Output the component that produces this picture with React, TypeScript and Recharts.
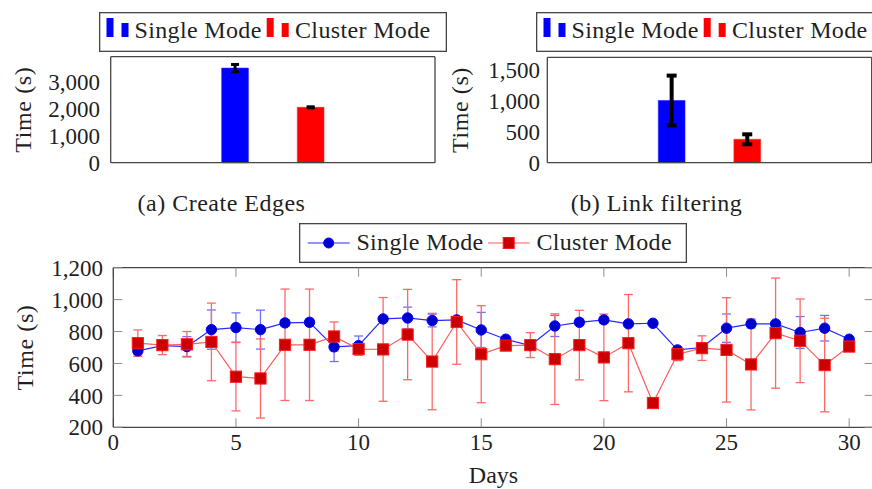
import React from 'react';
import { BarChart, Bar, XAxis, YAxis, ErrorBar, LineChart, Line, Legend } from 'recharts';

const FONT = "'Liberation Serif', 'DejaVu Serif', serif";
const TEXT = '#1f1f1f';
const FRAME = '#454545';
const TICK = '#8c8c8c';

// ---------- shared ----------
const seriesNames = ['Single Mode', 'Cluster Mode'];

// ---------- (a) Create Edges ----------
const createEdgesTime = [3507, 2052];
const createEdgesErr = [135, 20];
const createEdgesTicks = [0, 1000, 2000, 3000];
const createEdgesMax = 3930;

// ---------- (b) Link filtering ----------
const linkFilterTime = [1000, 376];
const linkFilterErr = [400, 80];
const linkFilterTicks = [0, 500, 1000, 1500];
const linkFilterMax = 1694;

// ---------- (c) daily times ----------
const days = [1, 2, 3, 4, 5, 6, 7, 8, 9, 10, 11, 12, 13, 14, 15, 16, 17, 18, 19, 20, 21, 22, 23, 24, 25, 26, 27, 28, 29, 30];
const singleTime = [679, 712, 706, 812, 825, 812, 854, 858, 704, 712, 879, 885, 869, 873, 810, 752, 712, 835, 858, 873, 848, 852, 685, 700, 821, 848, 848, 794, 821, 752];
const singleErr = [25, 20, 62, 123, 92, 122, 20, 20, 92, 60, 15, 68, 40, 15, 110, 15, 15, 66, 20, 20, 15, 10, 20, 15, 89, 25, 15, 100, 80, 10];
const clusterTime = [727, 715, 720, 735, 517, 506, 717, 717, 769, 690, 688, 781, 612, 860, 658, 712, 715, 627, 715, 638, 727, 352, 658, 696, 685, 594, 790, 742, 590, 706];
const clusterErr = [83, 60, 80, 243, 214, 248, 349, 349, 91, 15, 325, 283, 302, 265, 304, 20, 78, 284, 218, 271, 305, 10, 40, 77, 327, 285, 345, 262, 293, 10];
const dayTicks = [0, 5, 10, 15, 20, 25, 30];
const timeTicks = [200, 400, 600, 800, 1000, 1200];

const fmt = (v: number) => Number(v).toLocaleString('en-US');
const blank = () => '';
const FS = 24; // titles, legends, captions
const TS = 23; // tick labels

function BarLegendBox({ names }: { names: string[] }) {
  const items = [
    { color: '#0000ff', iconX: 7.5, textX: 35.5 },
    { color: '#ff0000', iconX: 167.7, textX: 196 },
  ];
  return (
    <svg width={348} height={40} style={{ display: 'block', overflow: 'visible' }}>
      <rect x={0.65} y={0.65} width={346.7} height={38.7} fill="#fff" stroke={FRAME} strokeWidth={1.3} />
      {items.map((it, i) => (
        <g key={i}>
          <rect x={it.iconX} y={6} width={7} height={19} fill={it.color} />
          <rect x={it.iconX + 15} y={11} width={7} height={14} fill={it.color} />
          <text x={it.textX} y={25.5} fontSize={FS} letterSpacing={0.35} fontFamily={FONT} fill={TEXT}>{names[i]}</text>
        </g>
      ))}
    </svg>
  );
}

function LineLegendBox({ names }: { names: string[] }) {
  return (
    <svg width={388} height={40} style={{ display: 'block', overflow: 'visible' }}>
      <rect x={0.65} y={0.65} width={386.7} height={38.7} fill="#fff" stroke={FRAME} strokeWidth={1.3} />
      <line x1={8.7} y1={20} x2={50.7} y2={20} stroke="#2a2aff" strokeWidth={1.2} />
      <circle cx={29.7} cy={20} r={5} fill="#0000cc" stroke="#0000ff" strokeWidth={1} />
      <text x={57.4} y={26.5} fontSize={FS} letterSpacing={0.35} fontFamily={FONT} fill={TEXT}>{names[0]}</text>
      <line x1={189} y1={20} x2={230.7} y2={20} stroke="#ff5c5c" strokeWidth={1.2} />
      <rect x={209.7 - 5.5} y={20 - 5.5} width={11} height={11} fill="#cc0000" stroke="#ff1a1a" strokeWidth={1} />
      <text x={237.4} y={26.5} fontSize={FS} letterSpacing={0.35} fontFamily={FONT} fill={TEXT}>{names[1]}</text>
    </svg>
  );
}

type BarPanelProps = {
  left: number;
  width: number;
  values: number[];
  errors: number[];
  max: number;
  ticks: number[];
  yAxisWidth: number;
  marginTop: number;
  marginRight: number;
  tickGap: number;
  caption: string;
  captionX: number;
  labelX: number;
  legendLeft: number;
  errStroke: number;
  errHalf: number;
};

function BarPanel(p: BarPanelProps) {
  const height = 220;
  const plotBottom = 162.7;
  const data = [
    {
      name: p.caption,
      single: p.values[0],
      singleErr: p.errors[0],
      cluster: p.values[1],
      clusterErr: p.errors[1],
    },
  ];
  const axisLine = { stroke: FRAME, strokeWidth: 1.3 };
  const yMid = (p.marginTop + plotBottom) / 2;
  return (
    <div style={{ position: 'absolute', left: p.left, top: 0 }}>
      <BarChart
        width={p.width}
        height={height}
        data={data}
        margin={{ top: p.marginTop - 1, right: p.marginRight - 1, bottom: height - plotBottom - 1, left: 0 }}
        barSize={26.7}
        barGap={48.9}
      >
        <XAxis
          dataKey="name"
          height={1}
          tickFormatter={blank}
          tickLine={false}
          tickSize={0}
          axisLine={axisLine}
          label={() => (
            <text x={p.captionX} y={210.5} textAnchor="middle" fontSize={FS} letterSpacing={0.5} fontFamily={FONT} fill={TEXT}>
              {p.caption}
            </text>
          )}
        />
        <XAxis
          xAxisId="top"
          orientation="top"
          dataKey="name"
          height={1}
          tickFormatter={blank}
          tickLine={false}
          tickSize={0}
          axisLine={axisLine}
        />
        <YAxis
          type="number"
          domain={[0, p.max]}
          ticks={p.ticks}
          interval={0}
          width={p.yAxisWidth}
          tickLine={false}
          tickSize={0}
          tickMargin={p.tickGap}
          axisLine={axisLine}
          tick={{ fontSize: TS, fill: TEXT, fontFamily: FONT }}
          tickFormatter={fmt}
          label={() => (
            <text
              x={p.labelX}
              y={yMid}
              transform={`rotate(-90 ${p.labelX} ${yMid})`}
              textAnchor="middle"
              dominantBaseline="central"
              fontSize={FS}
              letterSpacing={0.6}
              fontFamily={FONT}
              fill={TEXT}
            >
              Time (s)
            </text>
          )}
        />
        <YAxis
          yAxisId="right"
          orientation="right"
          type="number"
          domain={[0, p.max]}
          ticks={p.ticks}
          interval={0}
          width={1}
          tickSize={-9}
          tickLine={{ stroke: TICK, strokeWidth: 1 }}
          axisLine={axisLine}
          tickFormatter={blank}
        />
        <Bar dataKey="single" name={seriesNames[0]} fill="#0000ff" stroke="#2020ff" strokeWidth={0.6} isAnimationActive={false}>
          <ErrorBar dataKey="singleErr" direction="y" width={p.errHalf} stroke="#000" strokeWidth={p.errStroke} />
        </Bar>
        <Bar dataKey="cluster" name={seriesNames[1]} fill="#ff0000" stroke="#ff2020" strokeWidth={0.6} isAnimationActive={false}>
          <ErrorBar dataKey="clusterErr" direction="y" width={p.errHalf} stroke="#000" strokeWidth={p.errStroke} />
        </Bar>
        <Legend
          layout="vertical"
          align="center"
          verticalAlign="middle"
          wrapperStyle={{ position: 'absolute', left: p.legendLeft, top: 12, width: 348, height: 40 }}
          content={() => <BarLegendBox names={seriesNames} />}
        />
      </BarChart>
    </div>
  );
}

const circleDot = (props: any) => (
  <circle key={`s${props.index}`} cx={props.cx} cy={props.cy} r={5.2} fill="#0000cc" stroke="#0000ff" strokeWidth={1} />
);
const squareDot = (props: any) => (
  <rect
    key={`c${props.index}`}
    x={props.cx - 5.6}
    y={props.cy - 5.6}
    width={11.2}
    height={11.2}
    fill="#cc0000"
    stroke="#ff1a1a"
    strokeWidth={1}
  />
);

function DailyPanel() {
  const data = days.map((d, i) => ({
    day: d,
    single: singleTime[i],
    singleErr: singleErr[i],
    cluster: clusterTime[i],
    clusterErr: clusterErr[i],
  }));
  const axisLine = { stroke: FRAME, strokeWidth: 1.3 };
  const tickStyle = { fontSize: TS, fill: TEXT, fontFamily: FONT };
  return (
    <div style={{ position: 'absolute', left: 0, top: 220 }}>
      <LineChart width={880} height={269} data={data} margin={{ top: 46.7, right: 5.3, bottom: 31.7, left: 0 }}>
        <XAxis
          dataKey="day"
          type="number"
          domain={[0, 31]}
          ticks={dayTicks}
          interval={0}
          height={30}
          tickSize={-9}
          tickMargin={15.7}
          tickLine={{ stroke: TICK, strokeWidth: 1 }}
          axisLine={axisLine}
          tick={tickStyle}
          allowDataOverflow
          label={() => (
            <text x={493.5} y={262.7} textAnchor="middle" fontSize={FS} fontFamily={FONT} fill={TEXT}>
              Days
            </text>
          )}
        />
        <XAxis
          xAxisId="top"
          orientation="top"
          dataKey="day"
          type="number"
          domain={[0, 31]}
          ticks={dayTicks}
          interval={0}
          height={1}
          tickSize={-9}
          tickLine={{ stroke: TICK, strokeWidth: 1 }}
          axisLine={axisLine}
          tickFormatter={blank}
          allowDataOverflow
        />
        <YAxis
          type="number"
          domain={[200, 1200]}
          ticks={timeTicks}
          interval={0}
          width={113.3}
          tickSize={-9}
          tickMargin={19.3}
          tickLine={{ stroke: TICK, strokeWidth: 1 }}
          axisLine={axisLine}
          tick={tickStyle}
          tickFormatter={fmt}
          allowDataOverflow
          label={() => (
            <text
              x={25}
              y={127.5}
              transform="rotate(-90 25 127.5)"
              textAnchor="middle"
              dominantBaseline="central"
              fontSize={FS}
              letterSpacing={0.6}
              fontFamily={FONT}
              fill={TEXT}
            >
              Time (s)
            </text>
          )}
        />
        <YAxis
          yAxisId="right"
          orientation="right"
          type="number"
          domain={[200, 1200]}
          ticks={timeTicks}
          interval={0}
          width={1}
          tickSize={-9}
          tickLine={{ stroke: TICK, strokeWidth: 1 }}
          axisLine={axisLine}
          tickFormatter={blank}
          allowDataOverflow
        />
        <Line
          dataKey="single"
          name={seriesNames[0]}
          stroke="#2a2aff"
          strokeWidth={1.2}
          dot={circleDot}
          activeDot={false}
          isAnimationActive={false}
        >
          <ErrorBar dataKey="singleErr" direction="y" width={4.5} stroke="#7070ff" strokeWidth={1.3} />
        </Line>
        <Line
          dataKey="cluster"
          name={seriesNames[1]}
          stroke="#ff5c5c"
          strokeWidth={1.2}
          dot={squareDot}
          activeDot={false}
          isAnimationActive={false}
        >
          <ErrorBar dataKey="clusterErr" direction="y" width={4.5} stroke="#ff6868" strokeWidth={1.3} />
        </Line>
        <Legend
          layout="vertical"
          align="center"
          verticalAlign="middle"
          wrapperStyle={{ position: 'absolute', left: 299.3, top: 2.7, width: 388, height: 40 }}
          content={() => <LineLegendBox names={seriesNames} />}
        />
      </LineChart>
    </div>
  );
}

export default function App() {
  return (
    <div
      style={{
        position: 'absolute',
        left: 0,
        top: 0,
        width: 872,
        height: 489,
        overflow: 'hidden',
        background: '#fff',
        fontFamily: FONT,
      }}
    >
      <BarPanel
        left={0}
        width={450}
        values={createEdgesTime}
        errors={createEdgesErr}
        max={createEdgesMax}
        ticks={createEdgesTicks}
        yAxisWidth={110.7}
        marginTop={56.7}
        marginRight={15}
        tickGap={10.7}
        caption="(a) Create Edges"
        captionX={221.5}
        labelX={23}
        legendLeft={99}
        errStroke={3}
        errHalf={4}
      />
      <BarPanel
        left={440}
        width={440}
        values={linkFilterTime}
        errors={linkFilterErr}
        max={linkFilterMax}
        ticks={linkFilterTicks}
        yAxisWidth={107.3}
        marginTop={57.3}
        marginRight={8.3}
        tickGap={7.3}
        caption="(b) Link filtering"
        captionX={216.5}
        labelX={20}
        legendLeft={96}
        errStroke={4}
        errHalf={5}
      />
      <DailyPanel />
    </div>
  );
}
